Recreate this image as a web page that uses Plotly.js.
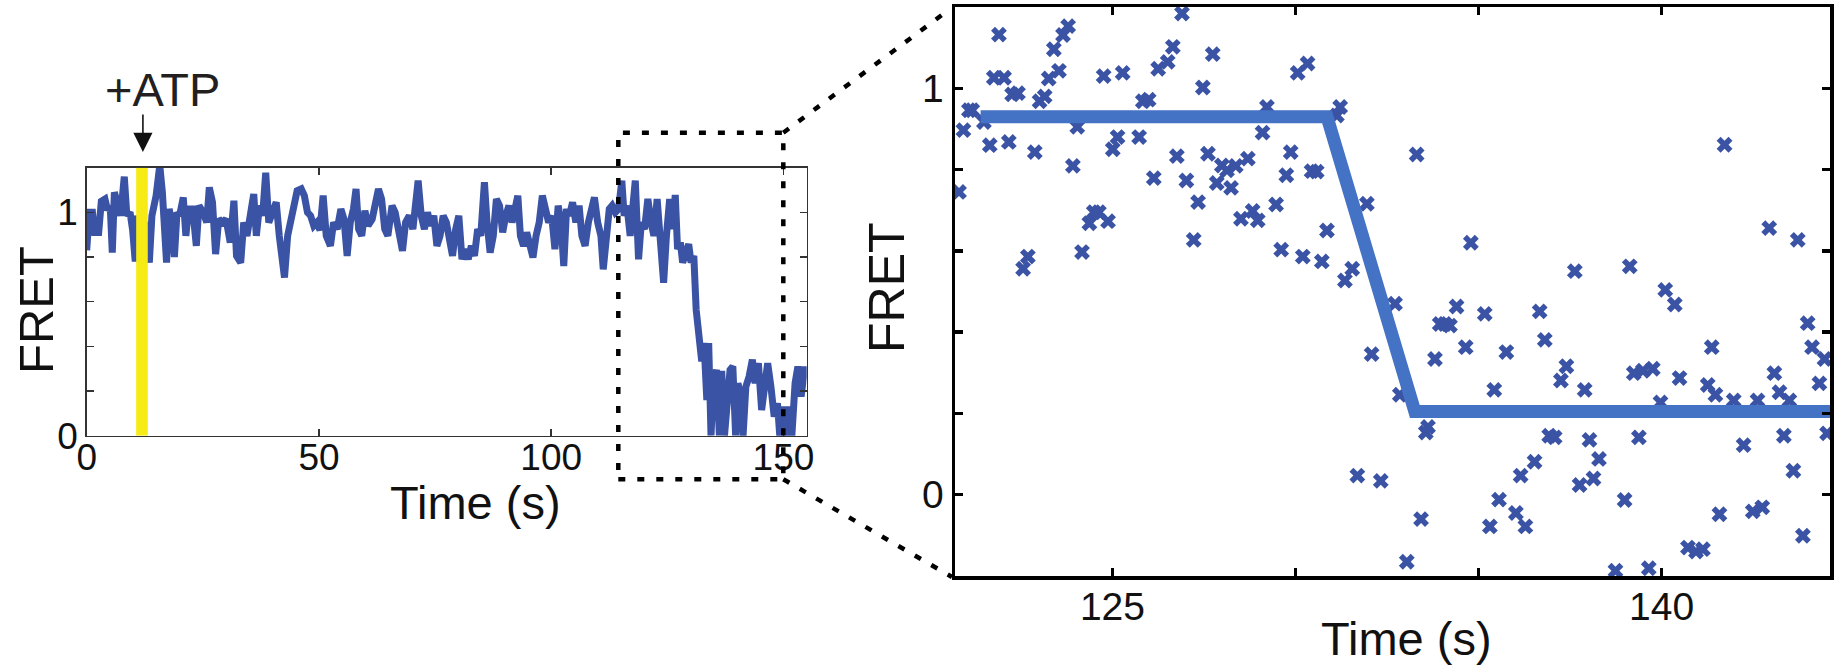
<!DOCTYPE html>
<html>
<head>
<meta charset="utf-8">
<script src="https://cdn.plot.ly/plotly-3.0.1.min.js"></script>
<style>html,body{margin:0;padding:0;background:#fff;}#chart{width:1842px;height:665px;}</style>
</head>
<body>
<div id="chart"></div>
<script>
// ---- Left panel: full FRET trace ----
const traceTime = [0.0,0.56,1.24,1.69,2.58,3.15,3.93,4.49,5.06,5.51,5.96,6.74,7.30,8.09,8.65,9.33,9.89,10.45,10.90,11.8,12.7,13.48,14.04,14.94,15.73,16.29,16.74,17.19,17.75,18.31,18.88,19.44,20.0,20.79,21.35,21.91,22.81,23.60,24.16,25.06,25.84,26.40,27.08,27.75,28.43,29.21,30.0,30.9,31.69,32.25,33.15,33.8,34.5,35.2,35.96,36.52,37.2,37.87,38.54,39.2,39.9,40.8,41.46,42.13,42.58,43.26,43.93,44.6,45.3,46.18,46.85,47.53,48.2,48.88,49.55,50.22,50.9,51.57,52.47,53.15,53.93,54.72,55.39,56.07,56.74,57.42,57.98,58.54,59.21,59.89,60.56,61.46,62.13,62.81,63.48,64.16,64.83,65.73,66.4,67.08,67.98,68.65,69.44,70.22,70.9,71.35,72.02,72.7,73.37,74.04,74.72,75.39,76.07,76.74,77.42,78.09,78.76,79.44,80.11,80.79,81.46,82.13,82.81,83.48,84.16,84.83,85.62,86.18,86.85,87.53,88.2,88.88,89.55,90.22,90.9,91.57,92.25,92.81,93.37,94.04,94.72,95.39,96.07,96.74,97.42,98.09,98.76,99.44,100.1,100.8,101.5,102.1,102.7,103.3,103.9,104.6,105.3,106.0,106.6,107.3,108.0,108.7,109.3,110.0,110.7,111.2,111.8,112.5,113.1,113.8,114.5,115.2,115.7,116.3,117.0,117.6,118.1,118.8,119.4,120.1,120.8,121.5,122.1,122.8,123.4,124.2,124.8,125.5,126.2,126.7,127.2,127.8,128.3,129.0,129.6,130.1,130.7,131.2,131.8,132.4,132.9,133.5,133.9,134.4,134.9,135.6,136.2,136.7,137.3,137.9,138.5,139.1,139.7,140.2,140.8,141.3,141.9,142.6,143.3,143.9,144.6,145.3,146.0,146.6,147.3,148.0,148.7,149.2,149.8,150.4,151.1,151.8,152.5,153.1,153.8,154.5,155.2];
const traceFret = [0.83,1.00,1.00,0.91,0.91,1.05,1.06,1.01,1.03,0.82,1.09,1.03,0.985,1.16,0.985,1.00,0.92,0.78,0.985,0.895,0.955,0.775,0.985,1.075,1.21,1.09,0.895,0.775,1.015,0.955,0.80,1.00,0.985,1.067,0.895,1.015,1.015,0.85,1.03,1.00,0.955,1.112,1.045,0.813,0.97,0.955,0.97,0.865,1.052,0.805,0.775,0.955,0.895,0.985,1.082,0.895,1.03,0.985,1.177,0.955,1.00,1.045,0.895,0.775,0.708,0.895,0.97,1.045,1.097,1.105,1.075,1.00,0.985,0.94,0.955,0.92,1.075,0.895,0.85,0.955,0.925,1.015,0.97,0.805,0.955,1.015,1.105,0.925,0.895,1.007,0.94,0.97,1.045,1.105,1.06,0.925,0.895,1.03,1.00,0.925,0.828,0.955,0.985,0.925,1.03,1.142,0.985,0.925,1.00,0.94,0.985,0.85,0.895,0.985,0.955,0.895,0.805,0.925,0.985,0.79,0.835,0.79,0.85,0.805,0.925,0.895,1.135,0.955,0.82,0.895,1.06,1.03,0.91,0.985,1.03,0.955,1.03,1.075,0.895,0.85,0.91,0.835,0.798,0.895,0.955,1.075,1.015,0.955,0.985,0.835,1.03,0.955,0.76,1.015,0.985,1.045,0.955,1.03,0.895,0.85,0.955,1.03,1.067,0.955,0.895,0.745,0.895,1.015,1.03,1.00,1.015,1.142,0.985,1.03,0.895,1.03,1.142,0.79,0.955,0.925,1.06,0.955,0.895,1.06,0.895,0.685,0.895,1.06,0.925,1.078,0.835,0.865,0.775,0.835,0.858,0.775,0.805,0.565,0.475,0.333,0.415,0.16,0.415,0.0,0.235,0.295,0.0,0.29,0.0,0.16,0.295,0.31,0.0,0.235,0.175,0.0,0.22,0.265,0.34,0.235,0.325,0.115,0.265,0.325,0.22,0.085,0.145,0.0,0.13,-0.005,0.13,0.0,0.235,0.31,0.175,0.295,0.295];
const atpWindow = [10.65, 13.15];   // yellow band marking ATP addition (s)
const atpArrowTime = 12.1;           // arrow position (s)

// ---- Right panel: zoomed raw points and step fit ----
const zoomTime = [120.81,120.93,121.08,121.17,121.49,121.65,121.76,121.90,122.04,122.17,122.26,122.42,122.56,122.69,122.88,123.01,123.15,123.26,123.40,123.54,123.65,123.79,123.92,124.04,124.17,124.37,124.49,124.63,124.76,124.88,125.01,125.14,125.28,125.73,125.83,125.99,126.13,126.25,126.51,126.65,126.76,126.90,127.02,127.22,127.34,127.47,127.61,127.74,127.85,127.99,128.13,128.24,128.37,128.51,128.70,128.83,128.97,129.10,129.22,129.47,129.61,129.75,129.87,130.06,130.20,130.33,130.44,130.58,130.72,130.86,131.13,131.22,131.35,131.55,131.69,131.95,132.08,132.33,132.72,132.85,133.04,133.31,133.43,133.56,133.62,133.81,133.94,134.08,134.22,134.40,134.65,134.79,135.17,135.31,135.43,135.56,135.76,136.02,136.15,136.28,136.53,136.67,136.81,136.93,137.08,137.25,137.40,137.63,137.76,137.90,138.03,138.14,138.29,138.74,138.99,139.13,139.24,139.38,139.49,139.65,139.76,139.97,140.10,140.36,140.49,140.72,140.94,141.13,141.26,141.37,141.47,141.58,141.72,141.97,142.24,142.49,142.62,142.75,142.94,143.08,143.22,143.34,143.49,143.60,143.72,143.86,143.99,144.11,144.31,144.45,144.52];
const zoomFret = [0.745,0.897,0.946,0.946,0.917,0.860,1.026,1.132,1.026,0.868,0.985,0.988,0.556,0.586,0.843,0.968,0.980,1.024,1.096,1.043,1.131,1.153,0.809,0.905,0.597,0.668,0.695,0.695,1.030,0.673,0.850,0.880,1.038,0.880,0.968,0.972,0.779,1.048,1.065,1.102,0.833,1.184,0.773,0.627,0.720,1.002,0.839,1.084,0.767,0.810,0.798,0.755,0.809,0.679,0.827,0.698,0.675,0.891,0.954,0.714,0.603,0.786,0.843,1.038,0.586,1.061,0.796,0.795,0.574,0.650,0.933,0.954,0.527,0.556,0.047,0.716,0.346,0.034,0.470,0.246,-0.165,0.837,-0.060,0.153,0.167,0.334,0.420,0.420,0.416,0.463,0.363,0.620,0.445,-0.078,0.258,-0.012,0.351,-0.045,0.047,-0.078,0.081,0.451,0.381,0.145,0.141,0.281,0.316,0.550,0.024,0.258,0.135,0.040,0.088,-0.187,-0.013,0.562,0.299,0.141,0.305,-0.181,0.310,0.227,0.504,0.468,0.287,-0.130,-0.140,-0.134,0.270,0.363,0.246,-0.048,0.861,0.232,0.122,-0.041,0.232,-0.031,0.656,0.299,0.252,0.145,0.232,0.059,0.627,-0.101,0.422,0.363,0.274,0.334,0.151];
const fitTime = [121.4, 130.86, 133.26, 144.8];
const fitFret = [0.93, 0.93, 0.205, 0.205];

// tick labels
const leftXTicks = [0, 50, 100, 150];
const leftYTicks = [0, 0.2, 0.4, 0.6, 0.8, 1.0];
const leftYLabels = ['0', '', '', '', '', '1'];
const rightXTicks = [125, 130, 135, 140];
const rightXLabels = ['125', '', '', '140'];
const rightYTicks = [0, 0.2, 0.4, 0.6, 0.8, 1.0];
const rightYLabels = ['0', '', '', '', '', '1'];

const W = 1842, H = 665;
const px = x => x / W;
const py = y => 1 - y / H;
const FONT = 'Liberation Sans, Arial, Helvetica, sans-serif';
const traceBlue = '#3A53A4';

const data = [
  {x: traceTime, y: traceFret, type: 'scatter', mode: 'lines', xaxis: 'x', yaxis: 'y',
   line: {color: traceBlue, width: 7, shape: 'linear'}, hoverinfo: 'skip'},
  {x: zoomTime, y: zoomFret, type: 'scatter', mode: 'markers', xaxis: 'x2', yaxis: 'y2',
   marker: {symbol: 'x', size: 14, color: traceBlue, line: {width: 0}}},
  {x: fitTime, y: fitFret, type: 'scatter', mode: 'lines', xaxis: 'x2', yaxis: 'y2',
   line: {color: '#4472C4', width: 13}}
];

const leftAxis = {
  showline: true, linecolor: '#333', linewidth: 1.5, mirror: 'ticks',
  ticks: 'inside', ticklen: 7, tickwidth: 1.5, tickcolor: '#333',
  showgrid: false, zeroline: false,
  tickfont: {family: FONT, size: 37, color: '#111'}
};
const rightAxis = {
  showline: true, linecolor: '#000', linewidth: 3.5, mirror: 'ticks',
  ticks: 'inside', ticklen: 8, tickwidth: 3.5, tickcolor: '#000',
  showgrid: false, zeroline: false,
  tickfont: {family: FONT, size: 39, color: '#111'}
};

const layout = {
  width: W, height: H,
  margin: {l: 0, r: 0, t: 0, b: 0},
  paper_bgcolor: '#fff', plot_bgcolor: '#fff',
  showlegend: false,
  font: {family: FONT, color: '#111'},
  xaxis: Object.assign({}, leftAxis, {
    domain: [px(86.7), px(806.7)], anchor: 'y', range: [0, 155],
    tickmode: 'array', tickvals: leftXTicks, ticklabelstandoff: -12
  }),
  yaxis: Object.assign({}, leftAxis, {
    domain: [py(435.7), py(167.7)], anchor: 'x', range: [0, 1.2],
    tickmode: 'array', tickvals: leftYTicks, ticktext: leftYLabels
  }),
  xaxis2: Object.assign({}, rightAxis, {
    domain: [px(955), px(1830)], anchor: 'y2', range: [120.7, 144.6],
    tickmode: 'array', tickvals: rightXTicks, ticktext: rightXLabels, ticklabelstandoff: -6
  }),
  yaxis2: Object.assign({}, rightAxis, {
    domain: [py(576), py(7)], anchor: 'x2', range: [-0.2, 1.2],
    tickmode: 'array', tickvals: rightYTicks, ticktext: rightYLabels
  }),
  shapes: [
    {type: 'rect', xref: 'x', yref: 'y', x0: atpWindow[0], x1: atpWindow[1], y0: 0, y1: 1.2,
     fillcolor: '#F6EB14', line: {width: 0}, layer: 'above'},
    // dotted zoom box and connectors
    {type: 'rect', xref: 'paper', yref: 'paper', x0: px(618.3), x1: px(783.3), y0: py(479.3), y1: py(132.7),
     line: {color: '#000', width: 4.5, dash: '7px,12px'}, fillcolor: 'rgba(0,0,0,0)'},
    {type: 'line', xref: 'paper', yref: 'paper', x0: px(783.3), y0: py(132.7), x1: px(950), y1: py(9),
     line: {color: '#000', width: 4.5, dash: '7px,12px'}},
    {type: 'line', xref: 'paper', yref: 'paper', x0: px(783.3), y0: py(479.3), x1: px(952), y1: py(577),
     line: {color: '#000', width: 4.5, dash: '7px,12px'}}
  ],
  annotations: [
    {xref: 'x', yref: 'paper', x: atpArrowTime, y: py(152), text: '', showarrow: true,
     ax: 0, ay: -39, arrowhead: 2, arrowsize: 2.4, arrowwidth: 1.6, arrowcolor: '#111'},
    {xref: 'paper', yref: 'paper', x: px(162.5), y: py(89), text: '+ATP', showarrow: false,
     xanchor: 'center', yanchor: 'middle', font: {family: FONT, size: 47, color: '#231F20'}},
    // axis titles
    {xref: 'paper', yref: 'paper', x: px(475), y: py(502), text: 'Time (s)', showarrow: false,
     xanchor: 'center', yanchor: 'middle', borderpad: 0, font: {family: FONT, size: 47, color: '#111'}},
    {xref: 'paper', yref: 'paper', x: px(36), y: py(310), text: 'FRET', showarrow: false, textangle: -90,
     xanchor: 'center', yanchor: 'middle', font: {family: FONT, size: 49, color: '#111'}},
    {xref: 'paper', yref: 'paper', x: px(1406), y: py(638), text: 'Time (s)', showarrow: false,
     xanchor: 'center', yanchor: 'middle', font: {family: FONT, size: 47, color: '#111'}},
    {xref: 'paper', yref: 'paper', x: px(887), y: py(288), text: 'FRET', showarrow: false, textangle: -90,
     xanchor: 'center', yanchor: 'middle', font: {family: FONT, size: 50, color: '#111'}}
  ]
};

Plotly.newPlot('chart', data, layout, {staticPlot: true, displayModeBar: false});
</script>
</body>
</html>
